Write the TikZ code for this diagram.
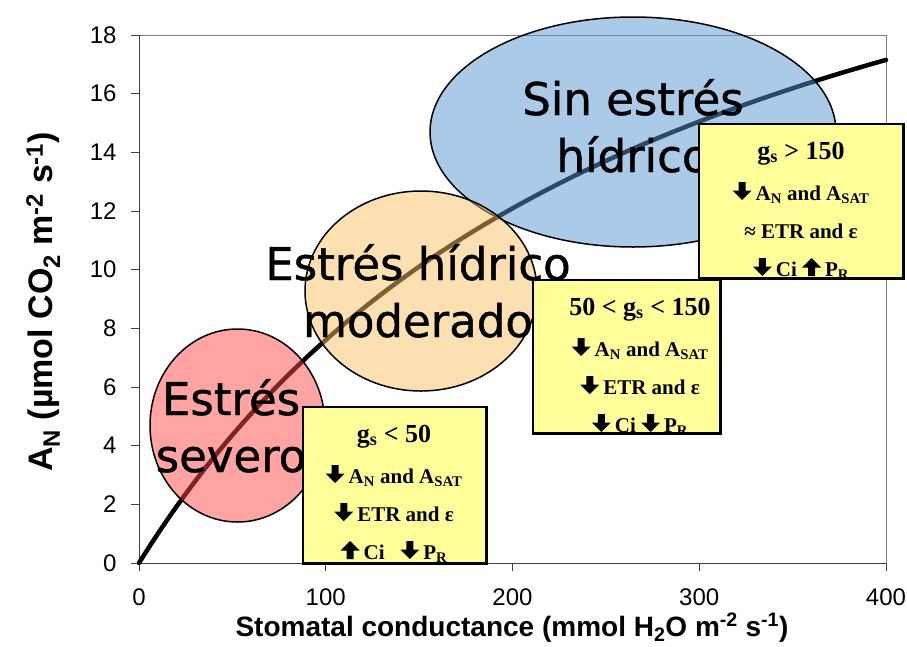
\documentclass[tikz,border=0pt]{standalone}
\usepackage{fontspec}
\setmainfont{Liberation Serif}
\newfontfamily\axisfont{Liberation Sans}
\newfontfamily\blobfont{DejaVu Sans}[FakeBold=1]
\usetikzlibrary{shapes.geometric}

\definecolor{severefill}{RGB}{255,71,71}
\definecolor{moderatefill}{RGB}{251,193,101}
\definecolor{nonefill}{RGB}{87,149,209}
\definecolor{boxyellow}{RGB}{255,255,153}
\definecolor{framegray}{RGB}{128,128,128}

% thick block arrows used in the boxes
\newcommand{\arrdn}{\tikz[baseline=0pt, x=1pt, y=1pt]
  \fill (0,0) -- (9.5,9.5) -- (3.5,9.5) -- (3.5,18) -- (-3.5,18) -- (-3.5,9.5) -- (-9.5,9.5) -- cycle;\hspace{4pt}}
\newcommand{\arrup}{\tikz[baseline=0pt, x=1pt, y=1pt]
  \fill (0,18) -- (9.5,8.5) -- (3.5,8.5) -- (3.5,0) -- (-3.5,0) -- (-3.5,8.5) -- (-9.5,8.5) -- cycle;\hspace{4pt}}

% text lines of one yellow box, cut at its border
\newcommand{\boxlines}[7]{%
  \begin{scope}
    \clip (#1.south west) rectangle (#1.north east);
    \node[headtxt] (#1-h) at (#2,{#3+35}) {#4};
    \node[linetxt] (#1-a) at (#2,{#3+76}) {#5};
    \node[linetxt] (#1-e) at (#2,{#3+114}) {#6};
    \node[linetxt] (#1-c) at (#2,{#3+152}) {#7};
  \end{scope}
  \draw[boxedge] (#1.south west) rectangle (#1.north east);
}

\tikzset{
  stressblob/.style={ellipse, draw=black, line width=1.5pt, fill opacity=0.5, inner sep=0pt},
  blobtxt/.style={font=\blobfont\fontsize{45}{57}\selectfont, anchor=base},
  statebox/.style={fill=boxyellow, anchor=north west, inner sep=0pt},
  boxedge/.style={draw=black, line width=2.5pt},
  headtxt/.style={font=\bfseries\fontsize{26}{28}\selectfont, anchor=base},
  linetxt/.style={font=\bfseries\fontsize{21}{24}\selectfont, anchor=base},
  ticklbl/.style={font=\axisfont\fontsize{24}{28}\selectfont},
  axtitle/.style={font=\axisfont\bfseries\fontsize{28}{32}\selectfont, anchor=base},
  axisline/.style={draw=black!75, line width=1pt},
  rate/.style={line width=4.5pt, line cap=round},
}

\begin{document}
\begin{tikzpicture}[x=1pt, y=-1pt]
    \useasboundingbox (0,0) rectangle (907,646);

    % plot area, axes and curve in data units
    \begin{scope}[shift={(139,563)}, x=1.8675pt, y=29.333pt]
        \draw[framegray, line width=1pt] (0,18) -- (400,18) -- (400,0);
        \draw[axisline] (0,18) -- (0,0) -- (400,0);
        \foreach \v in {0,2,...,18} {
            \draw[axisline] (0,\v) -- ++(-8pt,0);
            \node[ticklbl, anchor=east, xshift=-19pt] (yl\v) at (0,\v) {\v};
        }
        \foreach \g in {0,100,...,400} {
            \draw[axisline] (\g,0) -- ++(0,-8pt);
            \node[ticklbl, anchor=base, yshift=-42pt] (xl\g) at (\g,0) {\g};
        }
        \draw[rate] plot[domain=0:400, samples=80, smooth] (\x, {29.5*\x/(288+\x)});
    \end{scope}

    \node[axtitle] (xtitle) at (512,636)
        {Stomatal conductance (mmol H\textsubscript{2}O m\textsuperscript{-2} s\textsuperscript{-1})};
    \node[axtitle, font=\axisfont\bfseries\fontsize{34}{38}\selectfont, rotate=90] (ytitle) at (52,302)
        {A\textsubscript{N} (µmol CO\textsubscript{2} m\textsuperscript{-2} s\textsuperscript{-1})};

    % stress regions
    \node[stressblob, fill=nonefill, minimum width=406, minimum height=230] (nonestress) at (633,132) {};
    \node[stressblob, fill=moderatefill, minimum width=232, minimum height=200] (modstress) at (421,291) {};
    \node[stressblob, fill=severefill, minimum width=175, minimum height=193] (sevstress) at (237.5,425.5) {};

    \node[blobtxt] (none1) at (633,115) {Sin estrés};
    \node[blobtxt] (none2) at (633,172) {hídrico};
    \node[blobtxt] (mod1) at (418,280) {Estrés hídrico};
    \node[blobtxt] (mod2) at (418,337) {moderado};
    \node[blobtxt] (sev1) at (231,415) {Estrés};
    \node[blobtxt] (sev2) at (231,472) {severo};

    % yellow boxes
    \node[statebox, minimum width=183, minimum height=156] (lowgs) at (303,407) {};
    \boxlines{lowgs}{394}{407}{g\textsubscript{s} < 50}
        {\arrdn A\textsubscript{N} and A\textsubscript{SAT}}
        {\arrdn ETR and ε}
        {\arrup Ci \enspace\arrdn P\textsubscript{R}}

    \node[statebox, minimum width=187, minimum height=153] (midgs) at (533,280) {};
    \boxlines{midgs}{640}{280}{50 < g\textsubscript{s} < 150}
        {\arrdn A\textsubscript{N} and A\textsubscript{SAT}}
        {\arrdn ETR and ε}
        {\arrdn Ci \arrdn P\textsubscript{R}}

    \node[statebox, minimum width=204, minimum height=154] (highgs) at (699,124) {};
    \boxlines{highgs}{801}{124}{g\textsubscript{s} > 150}
        {\arrdn A\textsubscript{N} and A\textsubscript{SAT}}
        {≈ ETR and ε}
        {\arrdn Ci \arrup P\textsubscript{R}}
\end{tikzpicture}
\end{document}
